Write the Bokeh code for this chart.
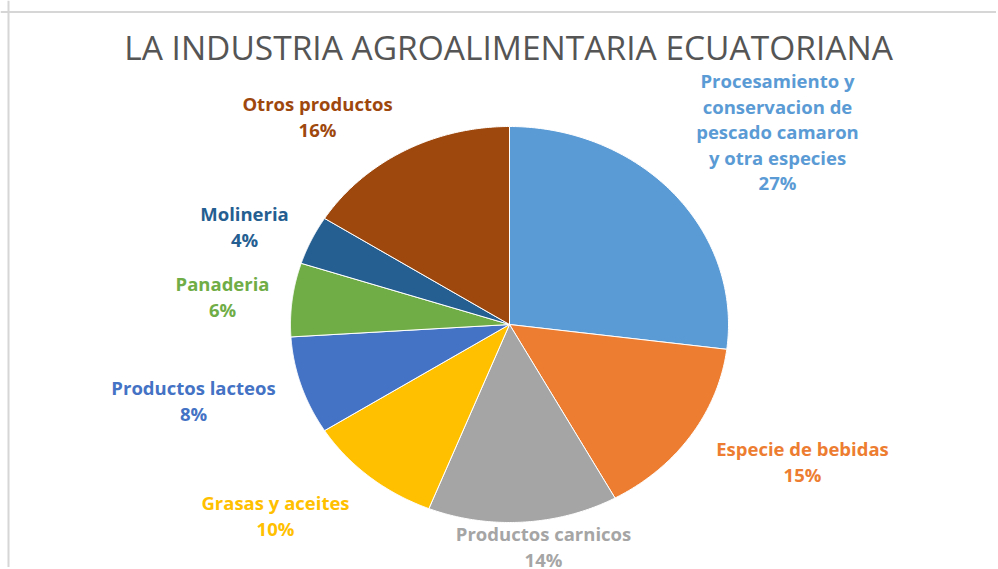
import numpy as np
from bokeh.plotting import figure
from bokeh.models import Range1d, Span, ColumnDataSource
from bokeh.core.properties import value
from bokeh.embed import file_html
from bokeh.resources import INLINE

# ---- data ----
title = "LA INDUSTRIA AGROALIMENTARIA ECUATORIANA"
categories = [
    "Procesamiento y\nconservacion de\npescado camaron\ny otra especies",
    "Especie de bebidas",
    "Productos carnicos",
    "Grasas y aceites",
    "Productos lacteos",
    "Panaderia",
    "Molineria",
    "Otros productos",
]
values = [27, 15, 14, 10, 8, 6, 4, 16]
pct_labels = ["27%", "15%", "14%", "10%", "8%", "6%", "4%", "16%"]
colors = ["#5B9BD5", "#ED7D31", "#A5A5A5", "#FFC000", "#4472C4", "#70AD47", "#255E91", "#9E480E"]
label_colors = ["#5B9BD5", "#ED7D31", "#A5A5A5", "#FFC000", "#4472C4", "#70AD47", "#255E91", "#9E480E"]

# ---- layout (page pixels; canvas origin at page 0,0) ----
OX, OY = 0, 0
W, H = 996, 567
CX, CY, RX, RY = 509, 324, 219, 198
label_pos = [(777, 80), (802, 448), (543, 533), (275, 502), (193, 387), (222, 283), (244, 213), (317, 103)]
LINE = 25.5


def to_data(px, py):
    return (px - CX) / RX, (CY - py) / RY


p = figure(width=W, height=H, output_backend="svg", toolbar_location=None,
           x_range=Range1d((OX - CX) / RX, (OX + W - CX) / RX),
           y_range=Range1d((CY - (OY + H)) / RY, (CY - OY) / RY),
           min_border=0)
p.axis.visible = False
p.grid.visible = False
p.outline_line_color = None
p.background_fill_color = "white"
p.border_fill_color = "white"

# frame lines (top and left)
p.add_layout(Span(location=to_data(0, 11.5)[1], dimension="width", line_color="#d6d6d6", line_width=2))
p.add_layout(Span(location=to_data(8, 0)[0], dimension="height", line_color="#d6d6d6", line_width=2))

# pie slices, clockwise from 12 o'clock
total = sum(values)
cum = np.concatenate([[0], np.cumsum(values)])
xs, ys = [], []
for i in range(len(values)):
    a0 = np.pi / 2 - 2 * np.pi * cum[i] / total
    a1 = np.pi / 2 - 2 * np.pi * cum[i + 1] / total
    th = np.linspace(a0, a1, 120)
    xs.append(np.concatenate([[0], np.cos(th)]).tolist())
    ys.append(np.concatenate([[0], np.sin(th)]).tolist())
p.patches(xs, ys, fill_color=colors, line_color="white", line_width=1)

# title
tx, ty = to_data(508, 46)
p.text([tx], [ty], text=[title], text_font=value("Open Sans"), text_font_size="33.5px",
       text_color="#555555", text_align="center", text_baseline="middle")

# labels
lx, ly, lt, lc = [], [], [], []
for i, (cat, pct) in enumerate(zip(categories, pct_labels)):
    lines = cat.split("\n") + [pct]
    px, py = label_pos[i]
    for j, t in enumerate(lines):
        x, y = to_data(px, py + j * LINE)
        lx.append(x); ly.append(y); lt.append(t); lc.append(label_colors[i])
src = ColumnDataSource(dict(x=lx, y=ly, text=lt, color=lc))
p.text("x", "y", text="text", source=src, text_color="color", text_font=value("Open Sans"),
       text_font_size="18.5px", text_font_style="bold", text_align="center", text_baseline="middle")

open("out.html", "w").write(file_html(p, INLINE))
